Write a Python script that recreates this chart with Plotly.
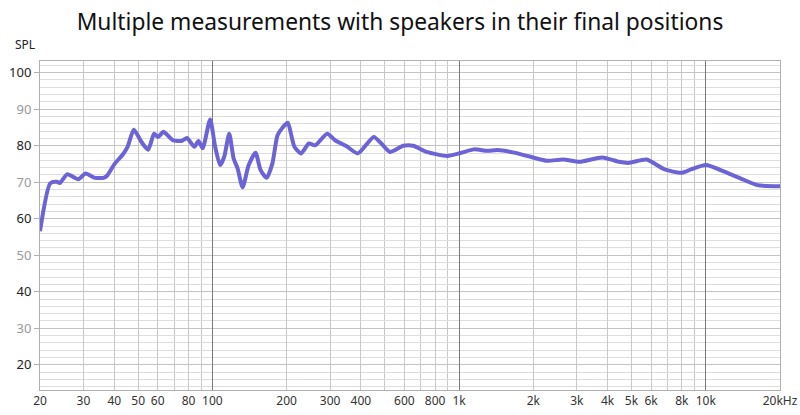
import plotly.graph_objects as go

# Frequency response (Hz, dB SPL)
freq_hz = [20, 22, 23.4, 24.1, 25.8, 28.6, 30.6, 33.4, 36.2, 37.3, 40.2, 43.1, 45.3,
           48.0, 51.6, 54.9, 58.0, 60.2, 63.3, 69.1, 74.9, 78.9, 84.5, 87.8, 91.3,
           97.9, 102.6, 107.5, 111.6, 117, 121.9, 126.5, 132.6, 140.3, 149.5, 156.8,
           165.9, 175, 183.5, 192.6, 202, 215, 229, 246, 261, 292, 314, 349, 389,
           451, 484, 524, 594, 652, 739, 895, 1013, 1148, 1302, 1432, 1673, 1911,
           2264, 2640, 3078, 3811, 4440, 4865, 5757, 6817, 7942, 8716, 10020, 11900,
           13880, 16200, 20000]
spl_db = [56.6, 69.7, 70.1, 69.8, 72.2, 70.8, 72.4, 71.2, 71.2, 71.7, 75.1, 77.4, 79.7,
          84.4, 81.0, 78.9, 83.3, 82.4, 83.8, 81.5, 81.3, 82.1, 79.7, 81.3, 79.3,
          87.2, 79.7, 74.7, 76.9, 83.3, 76.5, 73.8, 68.6, 74.7, 78.1, 73.3,
          71.2, 75.1, 82.8, 85.0, 86.3, 79.7, 77.9, 80.6, 80.1, 83.3, 81.5, 79.9, 77.9,
          82.4, 80.6, 78.3, 80.0, 80.0, 78.3, 77.2, 78.0, 79.0, 78.6, 78.8, 78.1, 77.1,
          75.9, 76.2, 75.6, 76.8, 75.6, 75.3, 76.2, 73.5, 72.6, 73.5, 74.7, 72.9,
          71.0, 69.2, 68.9]

x_label_vals = [20, 30, 40, 50, 60, 80, 100, 200, 300, 400, 600, 800, 1000,
                2000, 3000, 4000, 5000, 6000, 8000, 10000, 20000]
x_label_text = ["20", "30", "40", "50", "60", "80", "100", "200", "300", "400", "600",
                "800", "1k", "2k", "3k", "4k", "5k", "6k", "8k", "10k", "20kHz"]
x_minor_vals = [70, 90, 500, 700, 900, 7000, 9000]
x_decade_vals = [100, 1000, 10000]

y_tick_vals = [20, 30, 40, 50, 60, 70, 80, 90, 100]
y_tick_colors = ["#222", "#999", "#222", "#999", "#222", "#999", "#222", "#999", "#222"]
y_tick_text = [f'<span style="color:{c}">{v}</span>' for v, c in zip(y_tick_vals, y_tick_colors)]

fig = go.Figure()
fig.add_trace(go.Scatter(
    x=freq_hz, y=spl_db, mode="lines",
    line=dict(color="#6b63d6", width=4, shape="spline", smoothing=0.6),
    hoverinfo="skip", showlegend=False,
))
fig.add_trace(go.Scatter(x=[20, 20000], y=[None, None], xaxis="x2", showlegend=False,
                         hoverinfo="skip"))

fig.update_layout(
    width=800, height=415,
    margin=dict(l=40, r=20, t=61, b=25, autoexpand=False),
    paper_bgcolor="white", plot_bgcolor="white",
    font=dict(family="Noto Sans, Open Sans, sans-serif", size=12, color="#222"),
    title=dict(text="Multiple measurements with speakers in their final positions",
               x=0.5, xanchor="center", y=0.947, yanchor="middle",
               font=dict(size=22.8, color="#111")),
    xaxis=dict(
        type="log", range=[1.30103, 4.30103], automargin=False,
        tickmode="array", tickvals=x_label_vals, ticktext=x_label_text,
        showgrid=True, gridcolor="#c8c8c8", gridwidth=1,
        minor=dict(tickmode="array", tickvals=x_minor_vals, showgrid=True,
                   gridcolor="#c8c8c8", gridwidth=1, ticks=""),
        showline=True, linecolor="#b0b0b0", mirror=True,
        ticks="", tickfont=dict(size=12, color="#333"),
        zeroline=False, fixedrange=True,
    ),
    xaxis2=dict(
        type="log", range=[1.30103, 4.30103], overlaying="x", automargin=False,
        tickmode="array", tickvals=x_decade_vals, showticklabels=False,
        showgrid=True, gridcolor="#7a7a7a", gridwidth=1, ticks="",
        zeroline=False,
    ),
    yaxis=dict(
        range=[13.1, 103.2], automargin=False,
        tickmode="array", tickvals=y_tick_vals, ticktext=y_tick_text,
        showgrid=True, gridcolor="#c4c4c4", gridwidth=1,
        minor=dict(dtick=2, tick0=0, showgrid=True, gridcolor="#dedede", gridwidth=1),
        showline=True, linecolor="#b0b0b0", mirror=True,
        ticks="outside", ticklen=5, tickcolor="#b0b0b0",
        tickfont=dict(size=13), zeroline=False,
    ),
    annotations=[dict(text="SPL", xref="paper", yref="paper", x=0, y=1,
                      xanchor="right", yanchor="bottom", xshift=-3, yshift=6,
                      showarrow=False, font=dict(size=12, color="#222"))],
)

fig.write_html("out.html", config={"displayModeBar": False},
               post_script="document.body.style.margin='0';document.body.style.overflow='hidden';")
